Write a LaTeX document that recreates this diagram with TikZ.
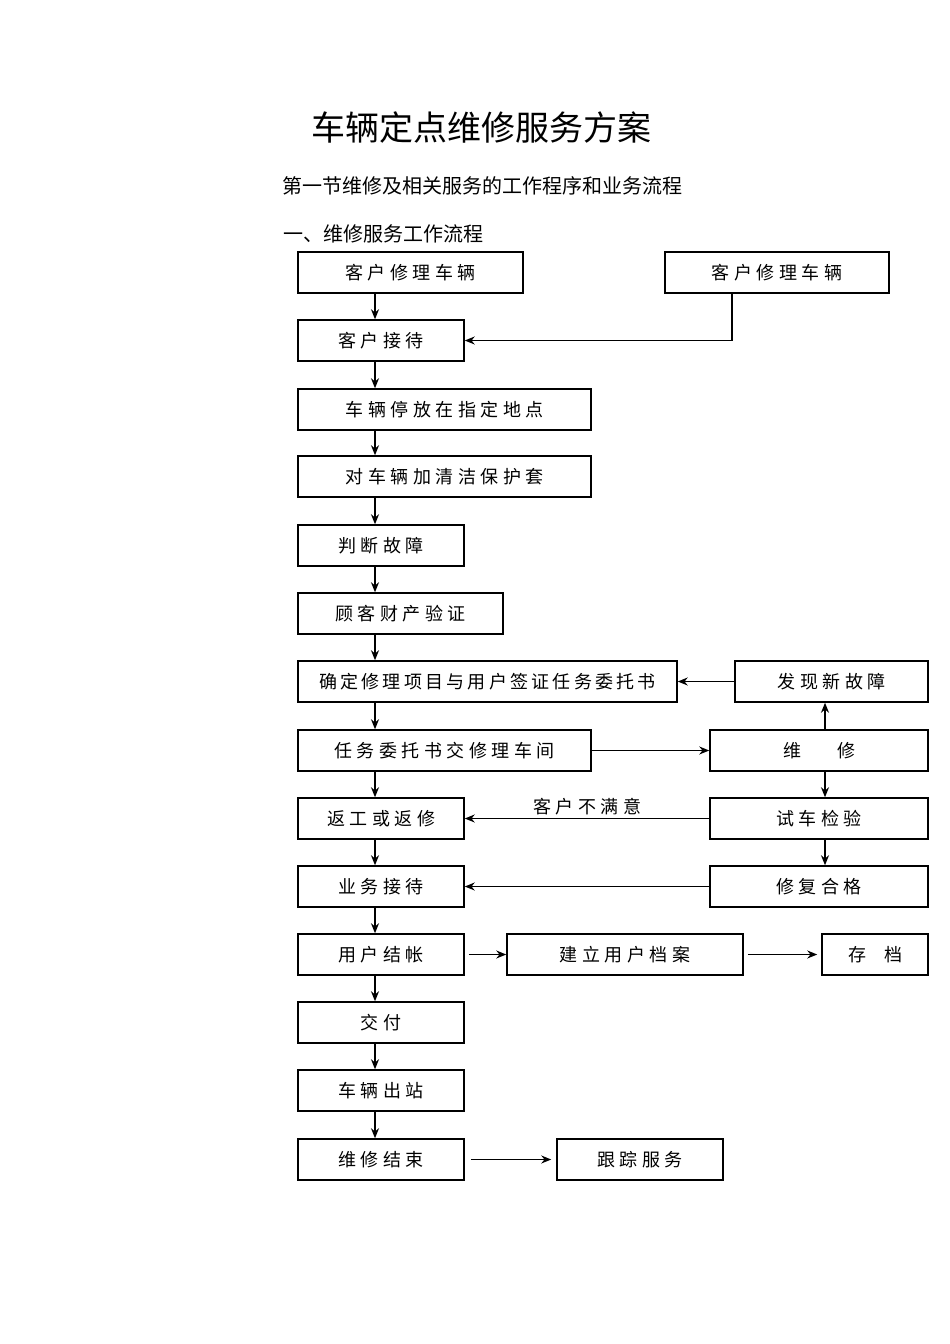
\documentclass[tikz,border=0pt]{standalone}
\usepackage{fontspec}
\newfontfamily\cjk{Noto Sans CJK SC}
\newfontfamily\cjkbox[LetterSpace=25]{Noto Sans CJK SC}
\usetikzlibrary{arrows.meta}
\begin{document}
\begin{tikzpicture}[x=1pt,y=-1pt,
  bx/.style={draw,line width=1.5pt,font=\cjkbox\fontsize{18}{18}\selectfont,inner sep=0pt},
  ar/.style={line width=1.4pt,-{Stealth[length=10pt,width=8pt]}}]
\useasboundingbox (0,0) rectangle (950,1344);
\newcommand\bx[6]{\node[bx,minimum width=#4-#2,minimum height=#5-#3] (#1) at ({(#2+#4)/2},{(#3+#5)/2}) {#6};}
\node[font=\cjk\fontsize{34}{34}\selectfont] (t) at (481,128) {车辆定点维修服务方案};
\node[font=\cjk\fontsize{20}{20}\selectfont] (s) at (482,186) {第一节维修及相关服务的工作程序和业务流程};
\node[font=\cjk\fontsize{20}{20}\selectfont,anchor=west,inner sep=0pt] (h) at (283,234) {一、维修服务工作流程};
\bx{b1}{298}{252}{523}{293}{客户修理车辆}
\bx{b2}{665}{252}{889}{293}{客户修理车辆}
\bx{b3}{298}{320}{464}{361}{客户接待}
\bx{b4}{298}{389}{591}{430}{车辆停放在指定地点}
\bx{b5}{298}{456}{591}{497}{对车辆加清洁保护套}
\bx{b6}{298}{525}{464}{566}{判断故障}
\bx{b7}{298}{593}{503}{634}{顾客财产验证}
\bx{b8}{298}{661}{677}{702}{\addfontfeature{LetterSpace=18}确定修理项目与用户签证任务委托书}
\bx{b9}{735}{661}{928}{702}{发现新故障}
\bx{b10}{298}{730}{591}{771}{任务委托书交修理车间}
\bx{b11}{710}{730}{928}{771}{维\hspace{2em}修}
\bx{b12}{298}{798}{464}{839}{返工或返修}
\bx{b13}{710}{798}{928}{839}{试车检验}
\bx{b14}{298}{866}{464}{907}{业务接待}
\bx{b15}{710}{866}{928}{907}{修复合格}
\bx{b16}{298}{934}{464}{975}{用户结帐}
\bx{b17}{507}{934}{743}{975}{建立用户档案}
\bx{b18}{822}{934}{928}{975}{存\hspace{1em}档}
\bx{b19}{298}{1002}{464}{1043}{交付}
\bx{b20}{298}{1070}{464}{1111}{车辆出站}
\bx{b21}{298}{1139}{464}{1180}{维修结束}
\bx{b22}{557}{1139}{723}{1180}{跟踪服务}
\foreach \a/\b in {b1/b3,b3/b4,b4/b5,b5/b6,b6/b7,b7/b8,b8/b10,b10/b12,b12/b14,b14/b16,b16/b19,b19/b20,b20/b21}
  \draw[ar] (\a.south -| 375,0) -- (\b.north -| 375,0);
\draw[ar] (b2.south -| 732,0) |- (b3.east);
\draw[ar] (b9.west) -- (b8.east);
\draw[ar] (b10.east) -- (b11.west);
\draw[ar] (b11.north -| 825,0) -- (b9.south -| 825,0);
\draw[ar] (b11.south -| 825,0) -- (b13.north -| 825,0);
\draw[ar] (b13.south -| 825,0) -- (b15.north -| 825,0);
\draw[ar] (b13.west) -- node[above,font=\cjkbox\fontsize{18}{18}\selectfont,yshift=-1pt] (lb) {客户不满意} (b12.east);
\draw[ar] (b15.west) -- (b14.east);
\draw[ar] ([xshift=4pt]b16.east) -- (b17.west);
\draw[ar] ([xshift=4pt]b17.east) -- ([xshift=-4pt]b18.west);
\draw[ar] ([xshift=6pt]b21.east) -- ([xshift=-5pt]b22.west);
\end{tikzpicture}
\end{document}
